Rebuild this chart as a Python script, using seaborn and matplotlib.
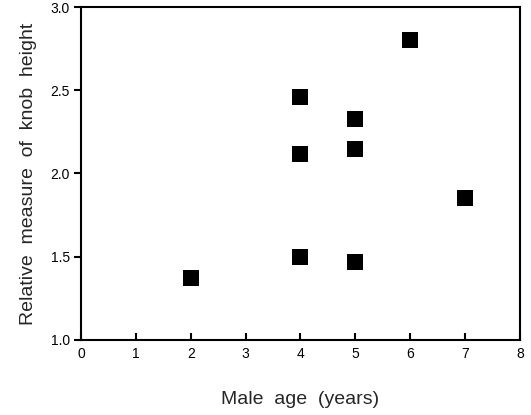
import matplotlib
matplotlib.use("Agg")
import matplotlib.pyplot as plt
import seaborn as sns
import pandas as pd

age = [2, 4, 4, 4, 5, 5, 5, 6, 7]
knob = [1.37, 2.46, 2.12, 1.50, 2.33, 2.15, 1.47, 2.80, 1.85]
xticks = [0, 1, 2, 3, 4, 5, 6, 7, 8]
yticks = [1.0, 1.5, 2.0, 2.5, 3.0]

sns.set_theme(style="ticks")
plt.rcParams['font.family'] = ['Liberation Sans', 'DejaVu Sans']

df = pd.DataFrame({"age": age, "knob": knob})
fig = plt.figure(figsize=(5.31, 4.15), dpi=100)
ax = fig.add_axes([0.1525, 0.181, 0.8265, 0.802])
sns.scatterplot(data=df, x="age", y="knob", marker="s", s=120, color="black",
                edgecolor="black", linewidth=0, ax=ax)
ax.set_xlim(0, 8)
ax.set_ylim(1.0, 3.0)
ax.set_xticks(xticks)
ax.set_xticklabels([str(t) for t in xticks])
ax.set_yticks(yticks)
ax.set_yticklabels([f"{t:.1f}" for t in yticks])
for s in ax.spines.values():
    s.set_visible(True)
    s.set_linewidth(1.5)
    s.set_color("black")
ax.tick_params(axis="x", direction="in", length=5, width=1.5, labelsize=10, pad=5, colors="black")
ax.tick_params(axis="y", direction="out", length=5, width=1.5, labelsize=10, pad=3, colors="black")
ax.set_xlabel("Male  age  (years)", fontsize=14, labelpad=22)
ax.set_ylabel("Relative  measure  of  knob  height", fontsize=14, labelpad=10)
fig.savefig("out.png", dpi=100)
